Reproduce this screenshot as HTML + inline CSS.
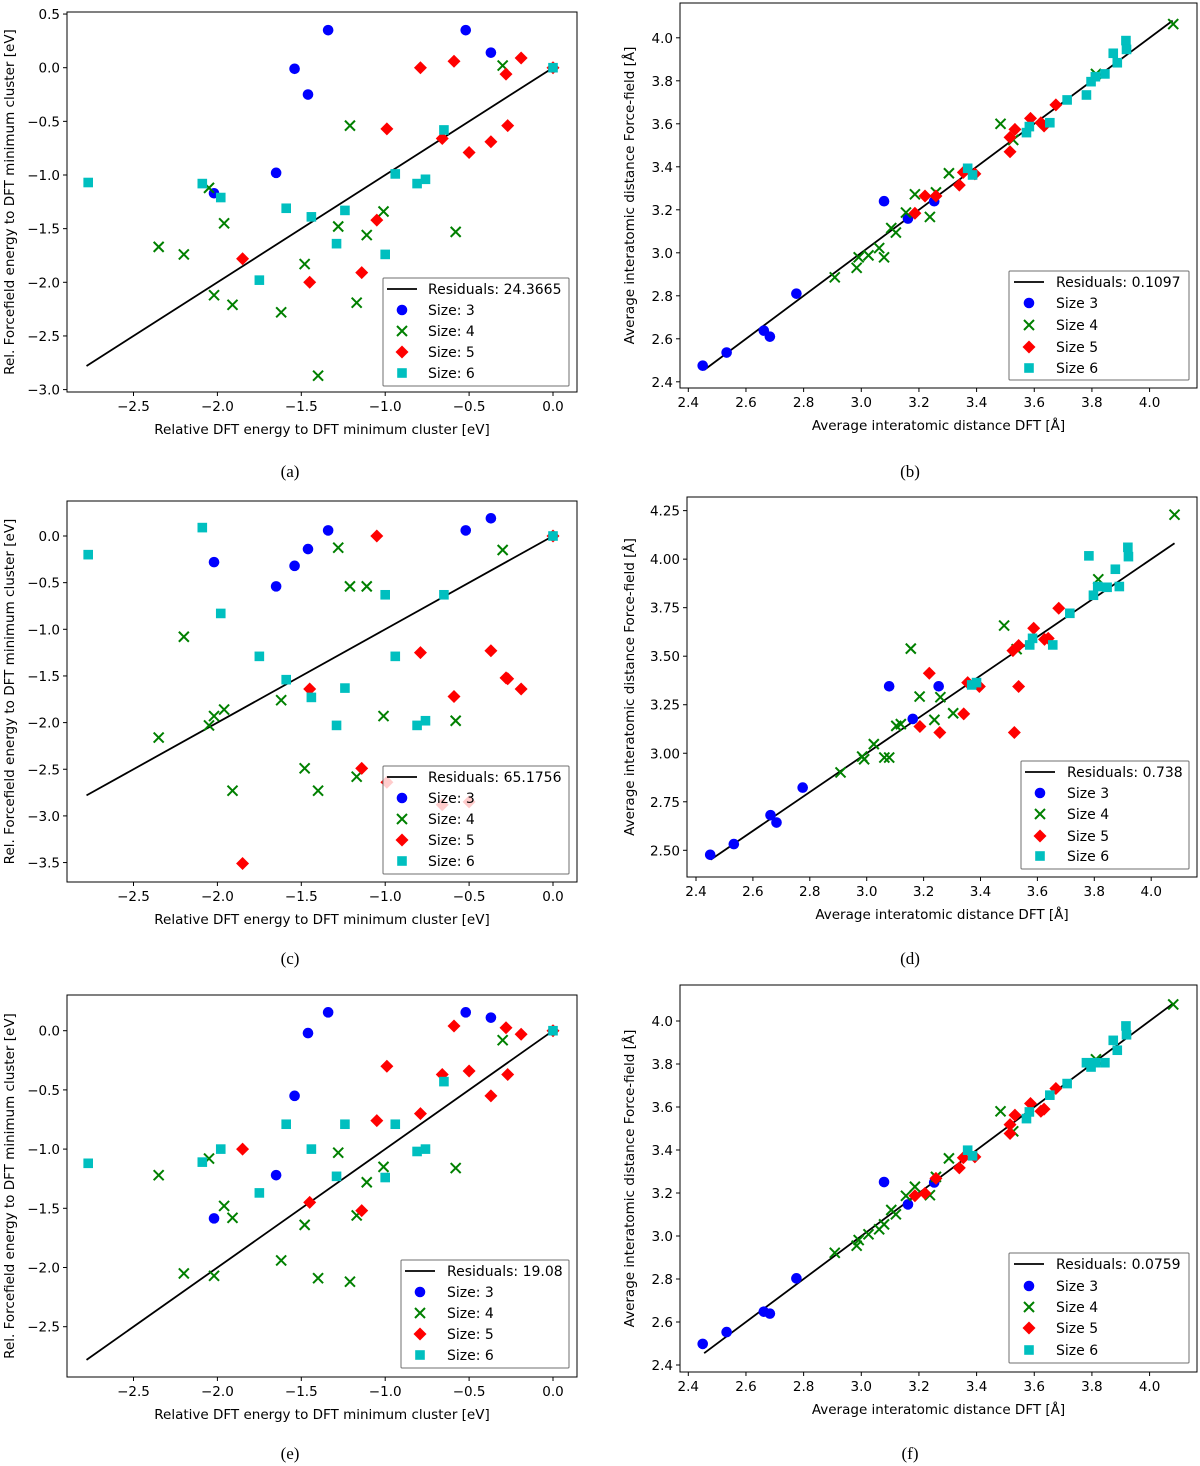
<!DOCTYPE html>
<html><head><meta charset="utf-8">
<style>
html,body{margin:0;padding:0;background:#fff;}
svg{display:block;}
text{font-family:"DejaVu Sans","Liberation Sans",sans-serif;}
</style></head>
<body>
<svg id="fig" width="1200" height="1466" viewBox="0 0 1200 1466" xmlns="http://www.w3.org/2000/svg"></svg>
<script>
// ---- shared DFT energies (panels a, c, e) ----
const eX3 = [-1.34,-1.54,-1.46,-0.52,-0.37,-1.65,-2.02];
const eX4 = [-1.21,-0.30,-2.05,-1.96,-2.35,-2.20,-1.01,-1.28,-1.11,-0.58,-1.48,-2.02,-1.91,-1.62,-1.17,-1.40];
const eX5 = [-0.79,-0.59,-0.19,-0.28,0,-0.99,-0.66,-0.50,-0.37,-0.27,-1.05,-1.85,-1.14,-1.45];
const eX6 = [-2.77,-2.09,-1.98,-1.59,-1.44,-1.24,-0.65,-0.94,-0.81,-0.76,-1.29,-1.00,-1.75,0];
// panel a
const aY3 = [0.35,-0.01,-0.25,0.35,0.14,-0.98,-1.17];
const aY4 = [-0.54,0.02,-1.12,-1.45,-1.67,-1.74,-1.34,-1.48,-1.56,-1.53,-1.83,-2.12,-2.21,-2.28,-2.19,-2.87];
const aY5 = [0.0,0.06,0.09,-0.06,0,-0.57,-0.66,-0.79,-0.69,-0.54,-1.42,-1.78,-1.91,-2.0];
const aY6 = [-1.07,-1.08,-1.21,-1.31,-1.39,-1.33,-0.58,-0.99,-1.08,-1.04,-1.64,-1.74,-1.98,0];
// panel c
const cY3 = [0.06,-0.32,-0.14,0.06,0.19,-0.54,-0.28];
const cY4 = [-0.54,-0.15,-2.03,-1.86,-2.16,-1.08,-1.93,-0.125,-0.54,-1.98,-2.49,-1.93,-2.73,-1.76,-2.58,-2.73];
const cY5 = [-1.25,-1.72,-1.64,-1.52,0,-2.64,-2.88,-2.85,-1.23,-1.53,0,-3.51,-2.49,-1.64];
const cY6 = [-0.20,0.09,-0.83,-1.54,-1.73,-1.63,-0.63,-1.29,-2.03,-1.98,-2.03,-0.63,-1.29,0];
// panel e
const eY3 = [0.155,-0.55,-0.02,0.155,0.11,-1.22,-1.585];
const eY4 = [-2.12,-0.08,-1.08,-1.48,-1.22,-2.05,-1.15,-1.03,-1.28,-1.16,-1.64,-2.07,-1.58,-1.94,-1.56,-2.09];
const eY5 = [-0.70,0.04,-0.03,0.025,0,-0.30,-0.37,-0.34,-0.55,-0.37,-0.76,-1.0,-1.52,-1.45];
const eY6 = [-1.12,-1.11,-1.0,-0.79,-1.0,-0.79,-0.43,-0.79,-1.02,-1.0,-1.23,-1.24,-1.37,0];
// ---- distances DFT (panels b, d, f) ----
const dX3 = [2.45,2.533,2.662,2.683,2.775,3.079,3.162,3.253];
const dX4 = [2.908,2.984,2.991,3.025,3.062,3.079,3.104,3.12,3.155,3.186,3.238,3.259,3.304,3.483,3.527,3.814,4.082];
const dX5 = [3.186,3.221,3.259,3.34,3.354,3.394,3.516,3.516,3.533,3.587,3.634,3.623,3.675];
const dX6 = [3.369,3.386,3.573,3.583,3.654,3.714,3.781,3.797,3.812,3.845,3.874,3.888,3.918,3.92];
// panel b
const bY3 = [2.475,2.536,2.638,2.61,2.81,3.24,3.159,3.24];
const bY4 = [2.886,2.93,2.979,2.988,3.022,2.979,3.115,3.094,3.187,3.272,3.167,3.281,3.37,3.6,3.525,3.832,4.064];
const bY5 = [3.184,3.264,3.264,3.315,3.374,3.367,3.47,3.537,3.574,3.625,3.59,3.605,3.688];
const bY6 = [3.393,3.362,3.559,3.587,3.605,3.711,3.734,3.796,3.819,3.832,3.928,3.884,3.987,3.946];
// panel d
const dY3 = [2.477,2.532,2.681,2.643,2.823,3.345,3.177,3.345];
const dY4 = [2.901,2.983,2.969,3.047,2.978,2.978,3.141,3.15,3.539,3.292,3.172,3.289,3.206,3.658,3.536,3.896,4.229];
const dY5 = [3.138,3.412,3.107,3.203,3.364,3.344,3.107,3.529,3.555,3.644,3.587,3.592,3.747];
const dY5x = [3.187,3.22,3.257,3.341,3.355,3.396,3.519,3.514,3.534,3.587,3.625,3.638,3.675];
const dY5b = [3.344];
const dY5bx = [3.534];
const dY6 = [3.352,3.364,3.558,3.592,3.558,3.721,4.017,3.814,3.859,3.855,3.948,3.859,4.061,4.013];
// panel f
const fY3 = [2.498,2.553,2.648,2.639,2.803,3.251,3.147,3.249];
const fY4 = [2.922,2.955,2.981,3.008,3.031,3.054,3.121,3.101,3.187,3.229,3.19,3.275,3.361,3.58,3.487,3.822,4.077];
const fY5 = [3.187,3.198,3.268,3.317,3.364,3.368,3.477,3.518,3.562,3.616,3.59,3.58,3.686];
const fY6 = [3.399,3.373,3.546,3.577,3.655,3.709,3.806,3.786,3.806,3.806,3.91,3.864,3.977,3.936];
// ticks & legend labels
const energyXTicks = [-2.5,-2.0,-1.5,-1.0,-0.5,0.0];
const aYTicks = [0.5,0.0,-0.5,-1.0,-1.5,-2.0,-2.5,-3.0];
const cYTicks = [0.0,-0.5,-1.0,-1.5,-2.0,-2.5,-3.0,-3.5];
const eYTicks = [0.0,-0.5,-1.0,-1.5,-2.0,-2.5];
const distXTicks = [2.4,2.6,2.8,3.0,3.2,3.4,3.6,3.8,4.0];
const bYTicks = [2.4,2.6,2.8,3.0,3.2,3.4,3.6,3.8,4.0];
const dYTicks = [2.50,2.75,3.00,3.25,3.50,3.75,4.00,4.25];
const residuals = ["24.3665","0.1097","65.1756","0.738","19.08","0.0759"];

const NS = "http://www.w3.org/2000/svg";
const svg = document.getElementById('fig');
function mk(tag, attrs, parent){
  const e = document.createElementNS(NS, tag);
  for (const k in attrs) e.setAttribute(k, attrs[k]);
  (parent||svg).appendChild(e);
  return e;
}
function fmt(v, d){ const s = Math.abs(v).toFixed(d); return (v < -1e-9 ? "\u2212" : "") + s; }

function marker(g, type, px, py){
  let m;
  if (type === 3) { m = mk('circle', {cx:px, cy:py, r:5.3, fill:'#0000ff'}, g); }
  else if (type === 4) {
    m = mk('path', {d:`M${px-5},${py-5}L${px+5},${py+5}M${px-5},${py+5}L${px+5},${py-5}`, stroke:'#008000', 'stroke-width':2, fill:'none'}, g);
  } else if (type === 5) {
    m = mk('path', {d:`M${px},${py-6.5}L${px+6.5},${py}L${px},${py+6.5}L${px-6.5},${py}Z`, fill:'#ff0000'}, g);
  } else { m = mk('rect', {x:px-4.8, y:py-4.8, width:9.6, height:9.6, fill:'#00bfbf'}, g); }
  return m;
}

function panel(cfg){
  const g = mk('g', {});
  
  
  const [L,T,R,B] = cfg.box;
  const X = v => cfg.xp0 + (v - cfg.xv0) * cfg.xk;
  const Y = v => cfg.yp0 - (v - cfg.yv0) * cfg.yk;
  const ln = mk('line', {x1:X(cfg.line[0]), y1:Y(cfg.line[0]), x2:X(cfg.line[1]), y2:Y(cfg.line[1]), stroke:'#000', 'stroke-width':1.8}, g);
  
  
  cfg.series.forEach(s => {
    const sg = mk('g', {}, g);
    
    
    s.x.forEach((xv, i) => {
      const m = marker(sg, s.t, X(xv), Y(s.y[i]));
      
      
    });
  });
  const fr = mk('rect', {x:L, y:T, width:R-L, height:B-T, fill:'none', stroke:'#000', 'stroke-width':1}, g);
  
  
  cfg.xticks.forEach(v => {
    const px = X(v);
    mk('line', {x1:px, y1:B, x2:px, y2:B+4, stroke:'#000', 'stroke-width':1}, g);
    const t = mk('text', {x:px, y:B+19, 'font-size':13.5, 'text-anchor':'middle', fill:'#000'}, g);
    t.textContent = fmt(v, cfg.xd);
    
    
  });
  cfg.yticks.forEach(v => {
    const py = Y(v);
    mk('line', {x1:L-4, y1:py, x2:L, y2:py, stroke:'#000', 'stroke-width':1}, g);
    const t = mk('text', {x:L-7, y:py+5, 'font-size':13.5, 'text-anchor':'end', fill:'#000'}, g);
    t.textContent = fmt(v, cfg.yd);
    
    
  });
  const xl = mk('text', {x:(L+R)/2, y:B+42, 'font-size':13.5, 'text-anchor':'middle', fill:'#000'}, g);
  xl.textContent = cfg.xlabel;
  
  
  const yl = mk('text', {x:0, y:0, 'font-size':13.5, 'text-anchor':'middle', fill:'#000', transform:`translate(${cfg.ylx},${(T+B)/2}) rotate(-90)`}, g);
  yl.textContent = cfg.ylabel;
  
  
  const lg = mk('g', {}, g);
  
  
  const [lx, ly, lw, lh] = cfg.leg;
  mk('rect', {x:lx, y:ly, width:lw, height:lh, fill:'rgba(255,255,255,0.8)', stroke:'#6f6f6f', 'stroke-width':1, rx:1}, lg);
  const rows = cfg.legRows;
  const mx = lx + cfg.legM, tx = lx + cfg.legT;
  mk('line', {x1:mx-15, y1:rows[0], x2:mx+15, y2:rows[0], stroke:'#000', 'stroke-width':1.8}, lg);
  const t0 = mk('text', {x:tx, y:rows[0]+5, 'font-size':14, fill:'#000'}, lg);
  t0.textContent = 'Residuals: ' + cfg.res;
  
  
  [3,4,5,6].forEach((s, i) => {
    marker(lg, s, mx, rows[i+1]);
    const t = mk('text', {x:tx, y:rows[i+1]+5, 'font-size':14, fill:'#000'}, lg);
    t.textContent = cfg.sizeLbl + s;
    
    
  });
  const cap = mk('text', {x:cfg.cap[0], y:cfg.cap[1], 'font-size':17, 'text-anchor':'middle', fill:'#000', style:'font-family:"Liberation Serif",serif'}, g);
  cap.textContent = '(' + cfg.id + ')';
  
  
}

const EXL = 'Relative DFT energy to DFT minimum cluster [eV]';
const EYL = 'Rel. Forcefield energy to DFT minimum cluster [eV]';
const DXL = 'Average interatomic distance DFT [\u00C5]';
const DYL = 'Average interatomic distance Force-field [\u00C5]';
const eSer = (y3,y4,y5,y6) => [{t:3,x:eX3,y:y3},{t:4,x:eX4,y:y4},{t:5,x:eX5,y:y5},{t:6,x:eX6,y:y6}];
const dSer = (y3,y4,y5,y6,x5) => [{t:3,x:dX3,y:y3},{t:4,x:dX4,y:y4},{t:5,x:x5||dX5,y:y5},{t:6,x:dX6,y:y6}];

panel({id:'a', box:[67,12,577,392], xv0:0, xp0:553, xk:167.8, yv0:0, yp0:67.7, yk:107.3,
  line:[-2.78,0], series:eSer(aY3,aY4,aY5,aY6), xticks:energyXTicks, yticks:aYTicks, xd:1, yd:1,
  xlabel:EXL, ylabel:EYL, ylx:14, leg:[383,278,186,108], legRows:[289,310,331,352,373], legM:19, legT:45,
  res:residuals[0], sizeLbl:'Size: ', cap:[290,477]});
panel({id:'b', box:[680,3,1197,388], xv0:2.4, xp0:688.3, xk:288.3, yv0:2.4, yp0:381.8, yk:215,
  line:[2.455,4.08], series:dSer(bY3,bY4,bY5,bY6), xticks:distXTicks, yticks:bYTicks, xd:1, yd:1,
  xlabel:DXL, ylabel:DYL, ylx:634, leg:[1009,271,180,109], legRows:[282,303,325,347,368], legM:20, legT:47,
  res:residuals[1], sizeLbl:'Size ', cap:[910,477]});
panel({id:'c', box:[67,501,577,882], xv0:0, xp0:553, xk:167.8, yv0:0, yp0:536, yk:93.3,
  line:[-2.78,0], series:eSer(cY3,cY4,cY5,cY6), xticks:energyXTicks, yticks:cYTicks, xd:1, yd:1,
  xlabel:EXL, ylabel:EYL, ylx:14, leg:[383,766,186,108], legRows:[777,798,819,840,861], legM:19, legT:45,
  res:residuals[2], sizeLbl:'Size: ', cap:[290,964]});
panel({id:'d', box:[687,497,1197,877], xv0:2.4, xp0:696, xk:284.5, yv0:2.5, yp0:850.3, yk:194.1,
  line:[2.452,4.082], series:dSer(dY3,dY4,dY5,dY6,dY5x).concat([{t:5,x:dY5bx,y:dY5b}]), xticks:distXTicks, yticks:dYTicks, xd:1, yd:2,
  xlabel:DXL, ylabel:DYL, ylx:634, leg:[1021,761,168,108], legRows:[772,793,814,836,856], legM:19, legT:46,
  res:residuals[3], sizeLbl:'Size ', cap:[910,964]});
panel({id:'e', box:[67,995,577,1377], xv0:0, xp0:553, xk:167.8, yv0:0, yp0:1030.7, yk:118.4,
  line:[-2.78,0], series:eSer(eY3,eY4,eY5,eY6), xticks:energyXTicks, yticks:eYTicks, xd:1, yd:1,
  xlabel:EXL, ylabel:EYL, ylx:14, leg:[401,1260,168,108], legRows:[1271,1292,1313,1334,1355], legM:19, legT:46,
  res:residuals[4], sizeLbl:'Size: ', cap:[290,1459]});
panel({id:'f', box:[680,985,1197,1372], xv0:2.4, xp0:688.3, xk:288.3, yv0:2.4, yp0:1365, yk:215,
  line:[2.455,4.08], series:dSer(fY3,fY4,fY5,fY6), xticks:distXTicks, yticks:bYTicks, xd:1, yd:1,
  xlabel:DXL, ylabel:DYL, ylx:634, leg:[1009,1253,180,110], legRows:[1264,1286,1307,1328,1350], legM:20, legT:47,
  res:residuals[5], sizeLbl:'Size ', cap:[910,1459]});
</script>
</body></html>
